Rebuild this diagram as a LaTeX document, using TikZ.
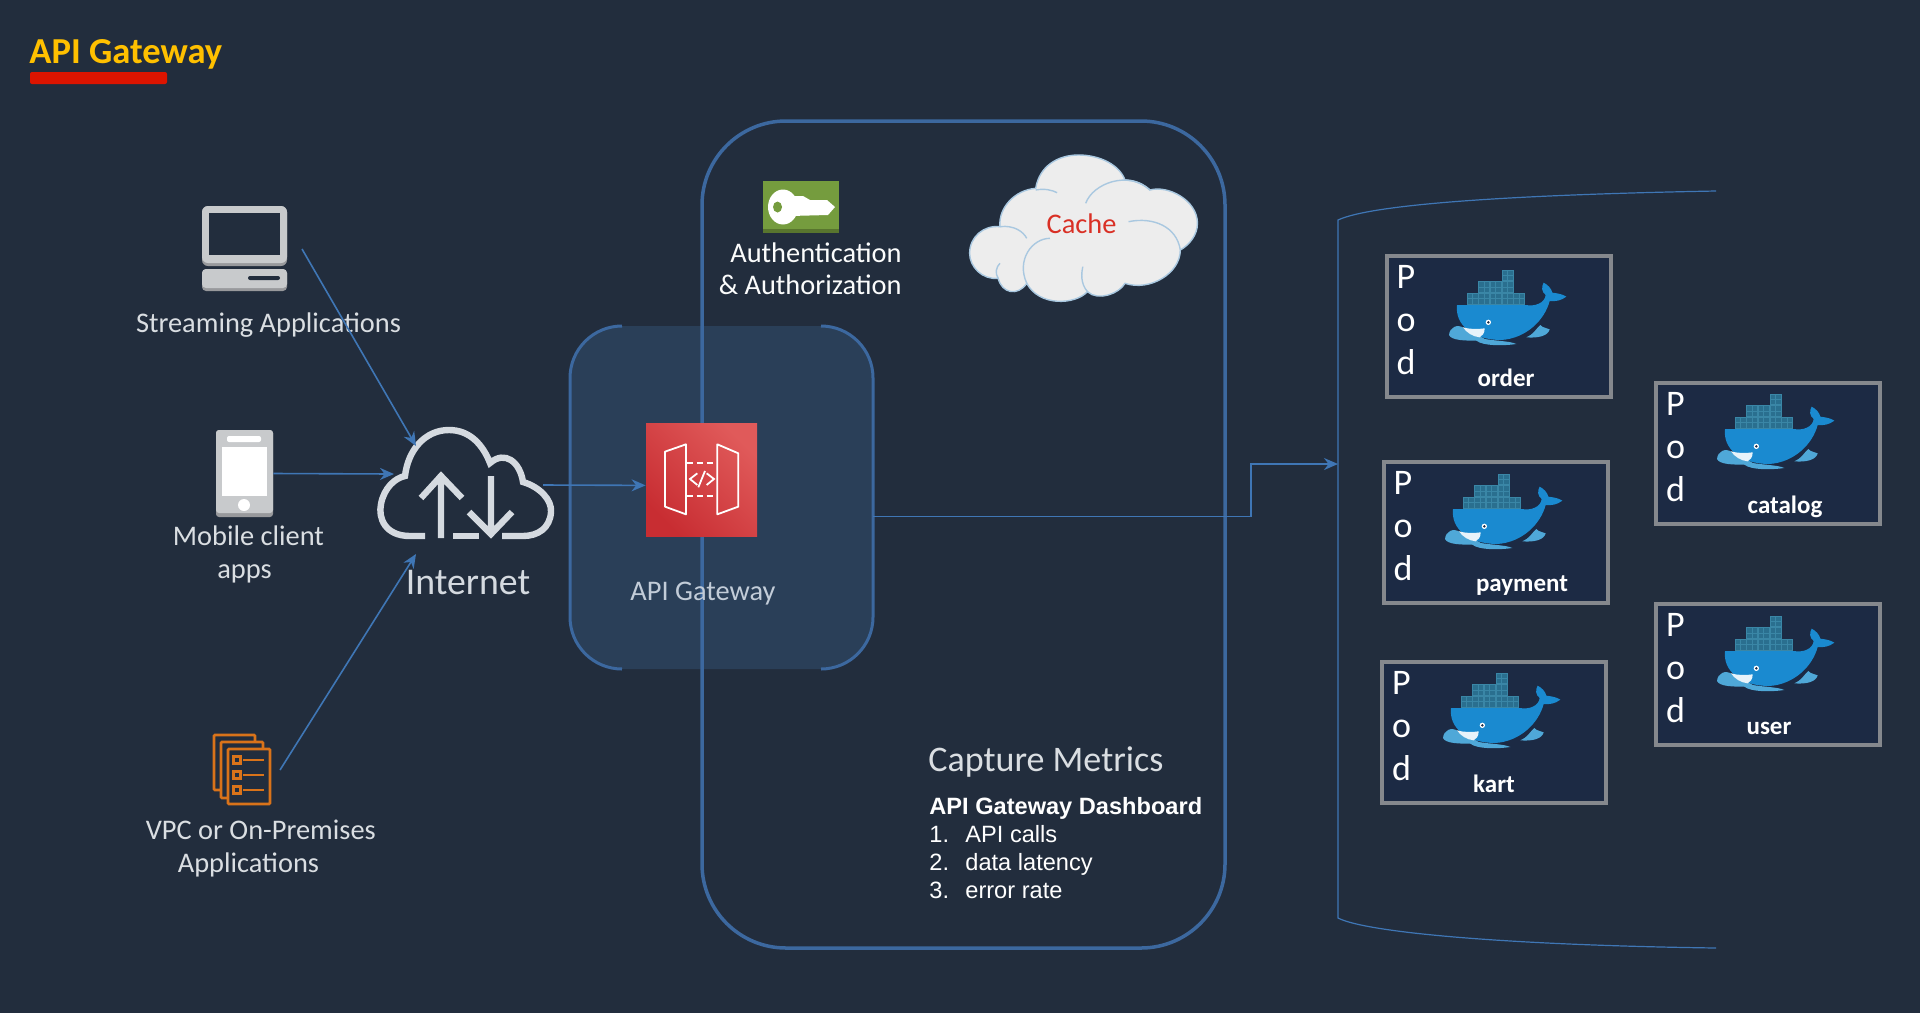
\documentclass[tikz,border=0pt]{standalone}
\usepackage{fontspec}
\usepackage{xcolor}
\usetikzlibrary{calc,positioning,arrows.meta}
\setmainfont{Carlito}
\newfontfamily\arialfont{Liberation Sans}

\definecolor{pagebg}{HTML}{222D3D}
\definecolor{panelbg}{HTML}{2A3F58}
\definecolor{boxline}{HTML}{3C689F}
\definecolor{linkblue}{HTML}{3F76B5}
\definecolor{labelgrey}{HTML}{DADEE2}
\definecolor{icongrey}{HTML}{C8CACC}
\definecolor{iconshade}{HTML}{98999C}
\definecolor{cloudline}{HTML}{D5DAE0}
\definecolor{podfill}{HTML}{1C2A44}
\definecolor{podline}{HTML}{85888D}
\definecolor{whaleblue}{HTML}{1A8AD0}
\definecolor{wavesblue}{HTML}{4FA8D8}
\definecolor{crateblue}{HTML}{2A6F8F}
\definecolor{cratelines}{HTML}{3A86A6}
\definecolor{vpcorange}{HTML}{D9731A}
\definecolor{keygreen}{HTML}{759C3E}
\definecolor{titlegold}{HTML}{FFC000}
\definecolor{underred}{HTML}{DC1400}
\definecolor{apilow}{HTML}{C82D32}
\definecolor{apihigh}{HTML}{E05A5A}
\definecolor{cachered}{HTML}{D93025}
\definecolor{cacheedge}{HTML}{A9C8E0}

\tikzset{
  iconlabel/.style={inner sep=0, text=labelgrey, align=center, font=\fontsize{14.2}{16.5}\selectfont},
  podframe/.style={draw=podline, line width=2pt, fill=podfill, minimum width=112pt, minimum height=70.5pt, inner sep=0},
  podletters/.style={inner sep=0, text=white, align=center, font=\fontsize{18}{21.5}\selectfont},
  podname/.style={inner sep=0, text=white, font=\fontsize{12.5}{14}\selectfont\bfseries},
  link/.style={draw=linkblue, line width=0.8pt, -{Stealth[length=7pt,width=6pt]}},
  whale/.pic={
    \begin{scope}[scale=0.3333, shift={(-238,-90)}]
      \fill[whaleblue] (262,195) -- (468,195) .. controls (495,200) and (525,190) .. (528,165) .. controls (515,155) and (515,140) .. (522,128) .. controls (535,135) and (545,145) .. (548,158) .. controls (565,160) and (580,163) .. (590,170) .. controls (575,182) and (555,185) .. (540,183) .. controls (525,240) and (470,295) .. (395,300) .. controls (310,300) and (255,255) .. (262,195) -- cycle;
      \fill[wavesblue] (238,285) .. controls (240,262) and (262,250) .. (285,265) .. controls (300,285) and (330,285) .. (345,297) .. controls (380,303) and (420,303) .. (440,312) .. controls (400,318) and (340,318) .. (320,302) .. controls (290,302) and (245,302) .. (238,285) -- cycle;
      \fill[wavesblue] (470,292) .. controls (490,285) and (500,265) .. (512,255) .. controls (520,265) and (530,262) .. (540,268) .. controls (535,288) and (505,295) .. (470,292) -- cycle;
      \fill[white!90!whaleblue] (280,262) .. controls (300,268) and (325,268) .. (345,265) .. controls (345,280) and (338,288) .. (330,292) .. controls (310,290) and (290,278) .. (280,262) -- cycle;
      \fill[white] (356,247) circle (8);
      \fill[podfill] (356,247) circle (4);
      \foreach \cx/\cy in {292/160,327/160,362/160,397/160,432/160,327/125,362/125,397/125,397/90} {
        \draw[cratelines, line width=0.35pt, fill=crateblue] (\cx,\cy) rectangle ++(33,32);
        \draw[cratelines, line width=0.2pt] (\cx+16,\cy) -- ++(0,32) (\cx,\cy+16) -- ++(33,0);
      }
    \end{scope}
  }
}

\begin{document}
\begin{tikzpicture}[x=0.5pt, y=-0.5pt]
  \fill[pagebg] (0,0) rectangle (1920,1013);
  \useasboundingbox (0,0) rectangle (1920,1013);

  % title
  \node[anchor=west, inner sep=0, text=titlegold, font=\fontsize{18.3}{20}\selectfont\bfseries] (title) at (29,54) {API Gateway};
  \fill[underred, rounded corners=1pt] (30,72) rectangle (167,84);

  % panel behind the gateway
  \node[fill=panelbg, rounded corners=26pt, minimum width=151.5pt, minimum height=171.5pt, inner sep=0] (gwpanel) at (721.5,497.5) {};

  % big box
  \node[draw=boxline, line width=1.75pt, rounded corners=42pt, minimum width=261.5pt, minimum height=413.5pt, inner sep=0] (gwbox) at (963.5,534.5) {};

  \draw[boxline, line width=1.5pt, rounded corners=26pt] (622,326) -- (570,326) -- (570,669) -- (622,669);
  \draw[boxline, line width=1.5pt, rounded corners=26pt] (821,326) -- (873,326) -- (873,669) -- (821,669);

  % laptop
  \node[inner sep=0, minimum width=42.5pt, minimum height=42.5pt] (laptop) at (244.5,248.5) {};
  \fill[iconshade, rounded corners=3pt] (202,206) rectangle (287,266);
  \fill[icongrey, rounded corners=3pt] (202,206) rectangle (287,263);
  \fill[pagebg] (209,213) rectangle (280,255);
  \fill[iconshade, rounded corners=2pt] (202,269) rectangle (287,291);
  \fill[icongrey, rounded corners=2pt] (202,269) rectangle (287,288);
  \fill[pagebg, rounded corners=1pt] (248,276) rectangle (280,280);
  \node[iconlabel] (streamlabel) at (268.5,325) {Streaming Applications};

  % phone
  \node[inner sep=0, minimum width=28.5pt, minimum height=43.5pt] (phone) at (244.5,473.5) {};
  \fill[iconshade, rounded corners=1.5pt] (216,430) rectangle (273,517);
  \fill[icongrey, rounded corners=1.5pt] (216,430) rectangle (273,513);
  \fill[white] (222,447) rectangle (267,496);
  \fill[white, rounded corners=1pt] (227,436) rectangle (261,442);
  \fill[white] (244,505) circle (6);
  \node[iconlabel] (mobilelabel) at (248.5,554.5) {Mobile client\\\hspace*{-4pt}apps};

  % vpc docs
  \node[inner sep=0, minimum width=28pt, minimum height=34.5pt] (vpcdocs) at (242,769.5) {};
  \draw[vpcorange, line width=1.3pt, fill=pagebg, rounded corners=0.5pt] (214,735) rectangle (255,790);
  \draw[vpcorange, line width=1.3pt, fill=pagebg, rounded corners=0.5pt] (221,742) rectangle (263,798);
  \draw[vpcorange, line width=1.3pt, fill=pagebg, rounded corners=0.5pt] (228,749) rectangle (270,804);
  \foreach \y in {760,775,790} {
    \draw[vpcorange, line width=1.2pt] (233.5,\y-3.5) rectangle ++(7,7);
    \draw[vpcorange, line width=1pt] (243,\y) -- (264,\y);
  }
  \node[iconlabel, align=left] (vpclabel) at (260.8,848.5) {VPC or On-Premises\\\hspace*{16pt}Applications};

  % internet
  \node[inner sep=0, minimum width=87.5pt, minimum height=55pt] (internet) at (465.5,483) {};
  \draw[cloudline, line width=3.2pt] (425,536) -- (410,536) .. controls (385,536) and (378,518) .. (381,504) .. controls (384,488) and (395,478) .. (405,476) .. controls (408,450) and (425,430) .. (449,430) .. controls (470,430) and (483,445) .. (490,463) .. controls (505,450) and (520,462) .. (523,482) .. controls (540,487) and (552,500) .. (551,512) .. controls (550,528) and (538,536) .. (523,536) -- (502,536);
  \draw[cloudline, line width=3.2pt] (453,536) -- (479,536);
  \draw[cloudline, line width=3.2pt] (441,538) -- (441,474) (421,498) -- (441,476) -- (462,498);
  \draw[cloudline, line width=3.2pt] (491,476) -- (491,532) (469,512) -- (491,534) -- (512,512);
  \node[iconlabel, text=cloudline, font=\fontsize{18.9}{22}\selectfont] (internetlabel) at (468,582) {Internet};

  % api gateway
  \node[inner sep=0, minimum width=55.5pt, minimum height=56.5pt, left color=apihigh, right color=apilow, shading angle=-45] (apigw) at (701.5,479.5) {};
  \begin{scope}[shift={(560,310)}, scale=0.3333]
    \draw[white, line width=0.9pt, line join=round] (315,425) -- (378,403) -- (378,613) -- (315,590) -- cycle;
    \draw[white, line width=0.9pt, line join=round] (472,403) -- (535,430) -- (535,590) -- (472,613) -- cycle;
    \draw[white, line width=0.9pt, dash pattern=on 3pt off 2pt] (380,458) -- (470,458) (380,558) -- (470,558);
    \draw[white, line width=0.9pt] (412,490) -- (390,507) -- (412,525) (440,490) -- (462,507) -- (440,525) (435,483) -- (415,532);
  \end{scope}
  \node[iconlabel, text=labelgrey!85!boxline] (gwlabel) at (703,594) {API Gateway};

  % key
  \node[fill=keygreen, inner sep=0, minimum width=38pt, minimum height=26pt] (keybox) at (801,207) {};
  \fill[keygreen!75!black] (763,229) rectangle (839,233);
  \fill[white] (783,207) ellipse (15 and 17.5);
  \fill[white] (790,196) -- (803,196) -- (810,200) -- (827,200) -- (835,207) -- (828,215) -- (790,216) -- cycle;
  \fill[keygreen] (777.5,207) ellipse (4.5 and 5.5);
  \node[iconlabel, align=right, anchor=east, font=\fontsize{14.2}{16}\selectfont, text=white!90!labelgrey] (authlabel) at (902,269) {Authentication\\\& Authorization};

  % cache
  \begin{scope}[shift={(700,110)}, xscale=0.3571, yscale=0.3333]
    \draw[fill=white!93!black, draw=cacheedge, line width=0.7pt] (940,235) .. controls (950,170) and (1000,135) .. (1060,135) .. controls (1120,135) and (1175,165) .. (1190,210) .. controls (1220,210) and (1245,225) .. (1260,240) .. controls (1310,225) and (1393,270) .. (1393,340) .. controls (1393,375) and (1370,405) .. (1345,420) .. controls (1345,490) and (1260,545) .. (1190,520) .. controls (1175,550) and (1115,575) .. (1085,545) .. controls (1050,585) and (950,590) .. (915,520) .. controls (890,560) and (845,550) .. (835,505) .. controls (790,510) and (755,470) .. (755,430) .. controls (755,380) and (795,345) .. (840,350) .. controls (835,295) and (880,240) .. (940,235) -- cycle;
    \draw[cacheedge, line width=0.7pt] (915,520) .. controls (885,450) and (930,385) .. (980,385);
    \draw[cacheedge, line width=0.7pt] (1085,545) .. controls (1065,520) and (1068,490) .. (1072,470);
    \draw[cacheedge, line width=0.7pt] (1080,280) .. controls (1100,220) and (1200,180) .. (1260,240);
    \draw[cacheedge, line width=0.7pt] (1200,335) .. controls (1270,320) and (1335,350) .. (1345,420);
    \draw[cacheedge, line width=0.7pt] (840,350) .. controls (880,345) and (905,365) .. (915,385);
    \draw[cacheedge, line width=0.7pt] (835,505) .. controls (825,490) and (830,470) .. (840,460);
    \draw[cacheedge, line width=0.7pt] (940,240) .. controls (965,235) and (985,240) .. (1000,248);
  \end{scope}
  \node[inner sep=0, text=cachered, font=\fontsize{14.2}{16}\selectfont] (cachelabel) at (1081.5,224) {Cache};

  % metrics
  \node[anchor=west, inner sep=0, text=labelgrey, font=\fontsize{18}{20}\selectfont] (metricslabel) at (928,762) {Capture Metrics};
  \node[anchor=west, inner sep=0, text=white, align=left, font=\arialfont\fontsize{11.8}{14}\selectfont] (dashlist) at (929,848) {\textbf{API Gateway Dashboard}\\\makebox[18pt][l]{1.}API calls\\\makebox[18pt][l]{2.}data latency\\\makebox[18pt][l]{3.}error rate};

  % pod area
  \draw[linkblue, line width=0.6pt] (1716,191) .. controls (1500,195) and (1370,205) .. (1338,220) -- (1338,918) .. controls (1365,932) and (1500,945) .. (1716,948);

  % pods
  \foreach \n/\cx/\cy/\wx/\wy/\lx/\ly in {order/1498.5/326/1449/270/1506/378,payment/1495.5/532/1445/474/1522/586,kart/1494/732/1443/673/1494/784,catalog/1768/453/1717/394/1785/507,user/1768/674/1717/616/1769/728} {
    \node[podframe] (pod\n) at (\cx,\cy) {};
    \pic at (\wx,\wy) {whale};
    \node[podletters] (letters\n) at ($(pod\n)+(-92.5,-6)$) {P\\o\\d};
    \node[podname] (name\n) at (\lx,\ly) {\n};
  }

  % connectors
  \coordinate (lapout) at (302,249);
  \coordinate (vpcout) at (280,770);
  \coordinate (cloudnw) at (416,446);
  \coordinate (cloudw) at (394,474);
  \coordinate (cloudsw) at (416,554);
  \coordinate (cloudout) at (543,485);
  \coordinate (podbend) at (1251,464);
  \coordinate (podsin) at (1338,464);
  \draw[link] (lapout) -- (cloudnw);
  \draw[link] (phone.east) -- (cloudw);
  \draw[link] (vpcout) -- (cloudsw);
  \draw[link] (cloudout) -- (apigw.186);
  \draw[link] ([yshift=-9.5pt]gwpanel.east) -| (podbend) -- (podsin);
\end{tikzpicture}
\end{document}
